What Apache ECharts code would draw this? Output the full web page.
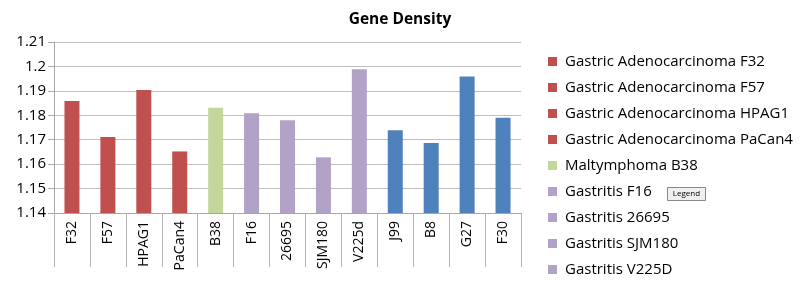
<!DOCTYPE html>
<html>
<head>
<meta charset="utf-8">
<script src="https://cdn.jsdelivr.net/npm/echarts@6/dist/echarts.min.js"></script>
<style>
  html, body { margin: 0; padding: 0; background: #fff; }
  #chart { width: 800px; height: 285px; }
</style>
</head>
<body>
<div id="chart"></div>
<script>
// strains on the x axis
const categories = ['F32', 'F57', 'HPAG1', 'PaCan4', 'B38', 'F16', '26695', 'SJM180', 'V225d', 'J99', 'B8', 'G27', 'F30']
// gene density per strain
const density = [1.1858, 1.1711, 1.1903, 1.1652, 1.1831, 1.1808, 1.1780, 1.1628, 1.1988, 1.1739, 1.1687, 1.1959, 1.1790]
// legend entries, one per bar
const legendNames = [
  'Gastric Adenocarcinoma F32',
  'Gastric Adenocarcinoma F57',
  'Gastric Adenocarcinoma HPAG1',
  'Gastric Adenocarcinoma PaCan4',
  'Maltymphoma B38',
  'Gastritis F16',
  'Gastritis 26695',
  'Gastritis SJM180',
  'Gastritis V225D',
  'Duodenal Ulcer J99',
  'Duodenal Ulcer B8',
  'Duodenal Ulcer G27',
  'Duodenal Ulcer F30'
]
// disease group of each bar
const groups = [0, 0, 0, 0, 1, 2, 2, 2, 2, 3, 3, 3, 3]

const groupColors = ['#c0504d', '#c3d69b', '#b2a2c7', '#4f81bd']
const font = '"Open Sans", "Liberation Sans", sans-serif'

let chart = echarts.init(document.getElementById('chart'))

// one series per bar so every bar gets its own legend entry
let series = legendNames.map((name, i) => ({
  name: name,
  type: 'bar',
  barWidth: 15,
  barGap: '-100%',
  itemStyle: { color: groupColors[groups[i]] },
  data: categories.map((c, j) => (j === i ? density[j] : '-'))
}))

chart.setOption({
  animation: false,
  title: {
    text: 'Gene Density',
    left: 'center',
    top: 7,
    textStyle: { fontFamily: font, fontSize: 15.5, fontWeight: 'bold', color: '#000' }
  },
  legend: {
    orient: 'vertical',
    left: 548,
    top: 54,
    height: 500,
    padding: 0,
    itemWidth: 9,
    itemHeight: 9,
    itemGap: 11,
    icon: 'rect',
    textStyle: { fontFamily: font, fontSize: 15, color: '#000', padding: [0, 0, 0, 3] },
    data: legendNames.map((name, i) => i === 9 ? { name: name, itemStyle: { color: groupColors[2] } } : name)
  },
  grid: {
    left: 54,
    right: 279,
    top: 42,
    bottom: 72
  },
  xAxis: {
    type: 'category',
    data: categories,
    axisLine: { lineStyle: { color: '#a6a6a6' } },
    axisTick: { show: true, interval: 0, length: 54, lineStyle: { color: '#b4b4b4', width: 1 } },
    axisLabel: {
      interval: 0,
      rotate: 90,
      margin: 8,
      fontFamily: font,
      fontSize: 14,
      color: '#000'
    }
  },
  yAxis: {
    type: 'value',
    min: 1.14,
    max: 1.21,
    interval: 0.01,
    axisLine: { show: true, lineStyle: { color: '#a6a6a6' } },
    axisTick: { show: true, length: 6, lineStyle: { color: '#a6a6a6' } },
    splitLine: { lineStyle: { color: '#bfbfbf' } },
    axisLabel: {
      margin: 8,
      fontFamily: font,
      fontSize: 15,
      color: '#000',
      formatter: v => String(+v.toFixed(2))
    }
  },
  graphic: [{
    type: 'group',
    left: 667,
    top: 187,
    children: [{
      type: 'rect',
      shape: { x: 0, y: 0, width: 38, height: 13 },
      style: { fill: '#f0f0f0', stroke: '#888', lineWidth: 1 }
    }, {
      type: 'text',
      x: 19,
      y: 6.5,
      style: { text: 'Legend', fontSize: 8, fontFamily: font, fill: '#000', align: 'center', verticalAlign: 'middle' }
    }]
  }],
  series: series
})
</script>
</body>
</html>
